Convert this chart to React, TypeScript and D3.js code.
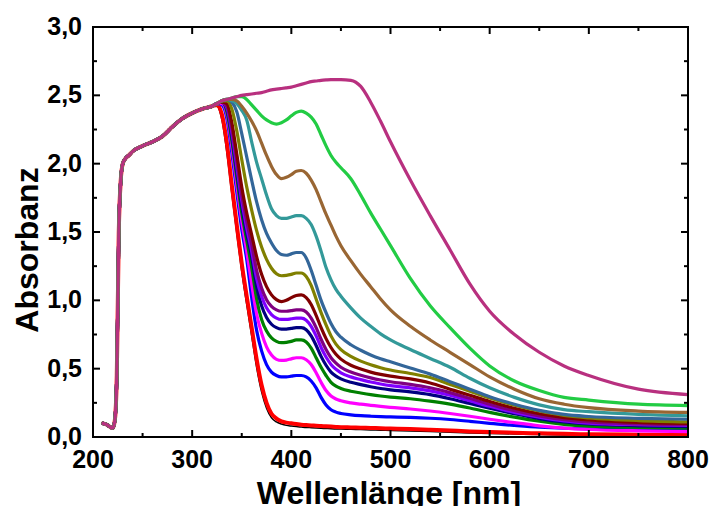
import React from "react";
import * as d3 from "d3";

// Shared leading part of every spectrum (before the curves split)
const commonWl = [210, 214, 218, 220, 222, 224, 226, 228, 230, 233, 236, 240, 250, 260, 270, 280, 290, 300, 310];
const commonAbs = [0.10, 0.09, 0.07, 0.065, 0.12, 0.45, 1.5, 1.88, 2.0, 2.04, 2.06, 2.09, 2.13, 2.16, 2.2, 2.27, 2.33, 2.37, 2.4];

// Wavelength grid of the diverging part
const splitWl = [320, 325, 330, 335, 340, 345, 350, 355, 360, 365, 370, 375, 380, 385, 390, 395, 400, 405, 410, 415, 420, 425, 430, 435, 440, 445, 450, 460, 470, 480, 490, 500, 520, 540, 560, 580, 600, 625, 650, 675, 700, 750, 800];

const sBlack = [2.42, 2.42, 2.32, 2.08, 1.78, 1.49, 1.21, 0.97, 0.74, 0.51, 0.33, 0.21, 0.14, 0.11, 0.095, 0.085, 0.08, 0.076, 0.073, 0.07, 0.068, 0.066, 0.064, 0.062, 0.06, 0.059, 0.058, 0.056, 0.054, 0.052, 0.05, 0.048, 0.044, 0.04, 0.035, 0.03, 0.026, 0.022, 0.018, 0.015, 0.013, 0.01, 0.008];
const sRed = [2.42, 2.43, 2.36, 2.15, 1.84, 1.55, 1.27, 1.03, 0.8, 0.57, 0.38, 0.25, 0.17, 0.135, 0.115, 0.105, 0.1, 0.095, 0.09, 0.087, 0.085, 0.082, 0.08, 0.078, 0.076, 0.074, 0.072, 0.07, 0.068, 0.066, 0.064, 0.062, 0.058, 0.053, 0.047, 0.041, 0.036, 0.031, 0.027, 0.023, 0.02, 0.017, 0.015];
const sBlue = [2.42, 2.44, 2.43, 2.33, 2.08, 1.79, 1.52, 1.3, 1.02, 0.78, 0.63, 0.53, 0.475, 0.45, 0.44, 0.44, 0.445, 0.45, 0.45, 0.44, 0.41, 0.36, 0.29, 0.235, 0.2, 0.182, 0.172, 0.162, 0.156, 0.152, 0.149, 0.147, 0.143, 0.137, 0.128, 0.115, 0.1, 0.085, 0.072, 0.064, 0.06, 0.056, 0.053];
const sMagenta = [2.42, 2.44, 2.44, 2.36, 2.13, 1.85, 1.58, 1.36, 1.12, 0.9, 0.76, 0.66, 0.6, 0.568, 0.56, 0.563, 0.572, 0.58, 0.58, 0.565, 0.53, 0.47, 0.4, 0.34, 0.3, 0.278, 0.265, 0.25, 0.24, 0.232, 0.224, 0.217, 0.205, 0.19, 0.172, 0.152, 0.13, 0.105, 0.082, 0.065, 0.055, 0.045, 0.04];
const sGreen = [2.42, 2.44, 2.45, 2.38, 2.17, 1.9, 1.64, 1.44, 1.24, 1.01, 0.86, 0.775, 0.725, 0.7, 0.69, 0.693, 0.7, 0.71, 0.71, 0.695, 0.65, 0.58, 0.51, 0.45, 0.4, 0.372, 0.355, 0.335, 0.322, 0.31, 0.3, 0.292, 0.28, 0.262, 0.24, 0.212, 0.18, 0.145, 0.115, 0.093, 0.08, 0.07, 0.065];
const sNavy = [2.42, 2.44, 2.45, 2.4, 2.2, 1.94, 1.69, 1.49, 1.32, 1.1, 0.96, 0.875, 0.825, 0.8, 0.79, 0.79, 0.795, 0.8, 0.8, 0.785, 0.74, 0.67, 0.59, 0.525, 0.475, 0.445, 0.425, 0.4, 0.383, 0.368, 0.355, 0.345, 0.33, 0.31, 0.28, 0.245, 0.21, 0.17, 0.135, 0.11, 0.095, 0.082, 0.075];
const sViolet = [2.42, 2.44, 2.45, 2.41, 2.23, 1.98, 1.73, 1.53, 1.36, 1.16, 1.03, 0.945, 0.895, 0.87, 0.86, 0.86, 0.865, 0.87, 0.87, 0.855, 0.81, 0.74, 0.655, 0.585, 0.53, 0.495, 0.47, 0.44, 0.42, 0.402, 0.388, 0.376, 0.36, 0.337, 0.305, 0.265, 0.225, 0.18, 0.145, 0.118, 0.102, 0.09, 0.085];
const sPurple = [2.42, 2.44, 2.45, 2.42, 2.26, 2.02, 1.77, 1.58, 1.41, 1.22, 1.09, 1.005, 0.955, 0.93, 0.92, 0.92, 0.925, 0.93, 0.93, 0.915, 0.87, 0.8, 0.715, 0.64, 0.58, 0.54, 0.51, 0.475, 0.452, 0.433, 0.417, 0.404, 0.385, 0.36, 0.325, 0.283, 0.24, 0.192, 0.155, 0.127, 0.11, 0.096, 0.09];
const sMaroon = [2.42, 2.44, 2.45, 2.44, 2.3, 2.07, 1.83, 1.64, 1.48, 1.32, 1.19, 1.1, 1.04, 1.005, 0.99, 1.0, 1.02, 1.035, 1.04, 1.02, 0.97, 0.89, 0.8, 0.72, 0.655, 0.605, 0.57, 0.525, 0.497, 0.475, 0.458, 0.445, 0.425, 0.395, 0.35, 0.305, 0.26, 0.21, 0.17, 0.142, 0.125, 0.107, 0.1];
const sOlive = [2.42, 2.44, 2.46, 2.46, 2.4, 2.24, 2.03, 1.83, 1.66, 1.51, 1.39, 1.3, 1.235, 1.195, 1.18, 1.183, 1.19, 1.2, 1.2, 1.175, 1.11, 1.01, 0.91, 0.82, 0.74, 0.68, 0.64, 0.59, 0.555, 0.528, 0.507, 0.49, 0.465, 0.435, 0.385, 0.335, 0.285, 0.232, 0.19, 0.158, 0.14, 0.12, 0.11];
const sSteel = [2.42, 2.44, 2.46, 2.47, 2.45, 2.38, 2.22, 2.05, 1.88, 1.72, 1.59, 1.49, 1.42, 1.365, 1.335, 1.33, 1.34, 1.35, 1.35, 1.31, 1.22, 1.11, 1.0, 0.91, 0.83, 0.77, 0.73, 0.675, 0.635, 0.6, 0.572, 0.55, 0.505, 0.46, 0.405, 0.35, 0.295, 0.24, 0.195, 0.165, 0.15, 0.137, 0.13];
const sTeal = [2.42, 2.44, 2.46, 2.47, 2.46, 2.44, 2.39, 2.32, 2.16, 2.01, 1.89, 1.77, 1.67, 1.62, 1.6, 1.6, 1.61, 1.62, 1.62, 1.6, 1.555, 1.47, 1.36, 1.24, 1.15, 1.08, 1.03, 0.945, 0.87, 0.81, 0.755, 0.71, 0.64, 0.575, 0.51, 0.43, 0.36, 0.29, 0.235, 0.2, 0.185, 0.165, 0.155];
const sBrown = [2.42, 2.44, 2.46, 2.47, 2.47, 2.46, 2.42, 2.37, 2.31, 2.24, 2.15, 2.06, 1.98, 1.92, 1.89, 1.9, 1.92, 1.945, 1.95, 1.93, 1.88, 1.81, 1.72, 1.63, 1.55, 1.47, 1.4, 1.29, 1.19, 1.1, 1.01, 0.93, 0.81, 0.71, 0.62, 0.53, 0.44, 0.35, 0.28, 0.24, 0.215, 0.19, 0.18];
const sLime = [2.42, 2.44, 2.46, 2.47, 2.48, 2.49, 2.49, 2.47, 2.43, 2.39, 2.35, 2.32, 2.3, 2.29, 2.3, 2.32, 2.35, 2.375, 2.385, 2.37, 2.34, 2.29, 2.21, 2.13, 2.06, 2.01, 1.97, 1.89, 1.77, 1.64, 1.52, 1.4, 1.16, 0.96, 0.8, 0.65, 0.52, 0.41, 0.34, 0.29, 0.27, 0.24, 0.23];
const sPink = [2.42, 2.44, 2.46, 2.47, 2.48, 2.49, 2.5, 2.505, 2.51, 2.515, 2.52, 2.53, 2.54, 2.545, 2.55, 2.555, 2.56, 2.57, 2.58, 2.59, 2.6, 2.605, 2.61, 2.613, 2.615, 2.615, 2.615, 2.61, 2.565, 2.45, 2.31, 2.16, 1.88, 1.62, 1.37, 1.12, 0.92, 0.75, 0.62, 0.52, 0.45, 0.35, 0.31];

const seriesValues = [sBlack, sRed, sBlue, sMagenta, sGreen, sNavy, sViolet, sPurple, sMaroon, sOlive, sSteel, sTeal, sBrown, sLime, sPink];
const seriesColors = ["#000000", "#FF0000", "#0000FF", "#FF00FF", "#008000", "#000080", "#8000FF", "#800080", "#800000", "#808000", "#336699", "#339999", "#996633", "#22CC44", "#B8307F"];
const seriesWidths = [1.5, 4, 3.2, 3.2, 3.2, 3.2, 3.2, 3.2, 3.2, 3.2, 3.2, 3.2, 3.2, 3.2, 3.2];

const xMajor = [200, 300, 400, 500, 600, 700, 800];
const xMinor = [250, 350, 450, 550, 650, 750];
const yMajor = [0, 0.5, 1, 1.5, 2, 2.5, 3];
const yMinor = [0.25, 0.75, 1.25, 1.75, 2.25, 2.75];

const W = 712, H = 506;
const L = 93, R = 688, T = 27, B = 437;
const FONT = "'Liberation Sans', Arial, Helvetica, sans-serif";

export default function App() {
  const x = d3.scaleLinear().domain([200, 800]).range([L, R]);
  const y = d3.scaleLinear().domain([0, 3]).range([B, T]);
  const line = d3
    .line<[number, number]>()
    .x((d) => x(d[0]))
    .y((d) => y(d[1]))
    .curve(d3.curveMonotoneX);

  const fmt = (v: number) => v.toFixed(1).replace(".", ",");
  const majLen = 7, minLen = 4;

  return (
    <svg width={W} height={H} style={{ position: "absolute", left: 0, top: 0, background: "#fff" }}>
      <defs>
        <clipPath id="plot">
          <rect x={L} y={T} width={R - L} height={B - T} />
        </clipPath>
      </defs>
      <g clipPath="url(#plot)">
        {seriesValues.map((vals, i) => {
          const pts: [number, number][] = [
            ...commonWl.map((w, k) => [w, commonAbs[k]] as [number, number]),
            ...splitWl.map((w, k) => [w, vals[k]] as [number, number]),
          ];
          return (
            <path
              key={i}
              d={line(pts) || ""}
              fill="none"
              stroke={seriesColors[i]}
              strokeWidth={seriesWidths[i]}
              strokeLinejoin="round"
              strokeLinecap="round"
            />
          );
        })}
      </g>
      <rect x={L} y={T} width={R - L} height={B - T} fill="none" stroke="#000" strokeWidth={2} />
      {xMajor.map((v) => (
        <g key={"xM" + v}>
          <line x1={x(v)} x2={x(v)} y1={B} y2={B - majLen} stroke="#000" strokeWidth={2} />
          <line x1={x(v)} x2={x(v)} y1={T} y2={T + majLen} stroke="#000" strokeWidth={2} />
          <text x={x(v)} y={468} textAnchor="middle" fontFamily={FONT} fontWeight="bold" fontSize={25}>
            {v}
          </text>
        </g>
      ))}
      {xMinor.map((v) => (
        <g key={"xm" + v}>
          <line x1={x(v)} x2={x(v)} y1={B} y2={B - minLen} stroke="#000" strokeWidth={2} />
          <line x1={x(v)} x2={x(v)} y1={T} y2={T + minLen} stroke="#000" strokeWidth={2} />
        </g>
      ))}
      {yMajor.map((v) => (
        <g key={"yM" + v}>
          <line x1={L} x2={L + majLen} y1={y(v)} y2={y(v)} stroke="#000" strokeWidth={2} />
          <line x1={R} x2={R - majLen} y1={y(v)} y2={y(v)} stroke="#000" strokeWidth={2} />
          <text x={82} y={y(v) + 8} textAnchor="end" fontFamily={FONT} fontWeight="bold" fontSize={25}>
            {fmt(v)}
          </text>
        </g>
      ))}
      {yMinor.map((v) => (
        <g key={"ym" + v}>
          <line x1={L} x2={L + minLen} y1={y(v)} y2={y(v)} stroke="#000" strokeWidth={2} />
          <line x1={R} x2={R - minLen} y1={y(v)} y2={y(v)} stroke="#000" strokeWidth={2} />
        </g>
      ))}
      <text x={389} y={504} textAnchor="middle" fontFamily={FONT} fontWeight="bold" fontSize={32}>
        Wellenlänge [nm]
      </text>
      <text
        transform={`translate(38,250) rotate(-90)`}
        textAnchor="middle"
        fontFamily={FONT}
        fontWeight="bold"
        fontSize={32}
      >
        Absorbanz
      </text>
    </svg>
  );
}
